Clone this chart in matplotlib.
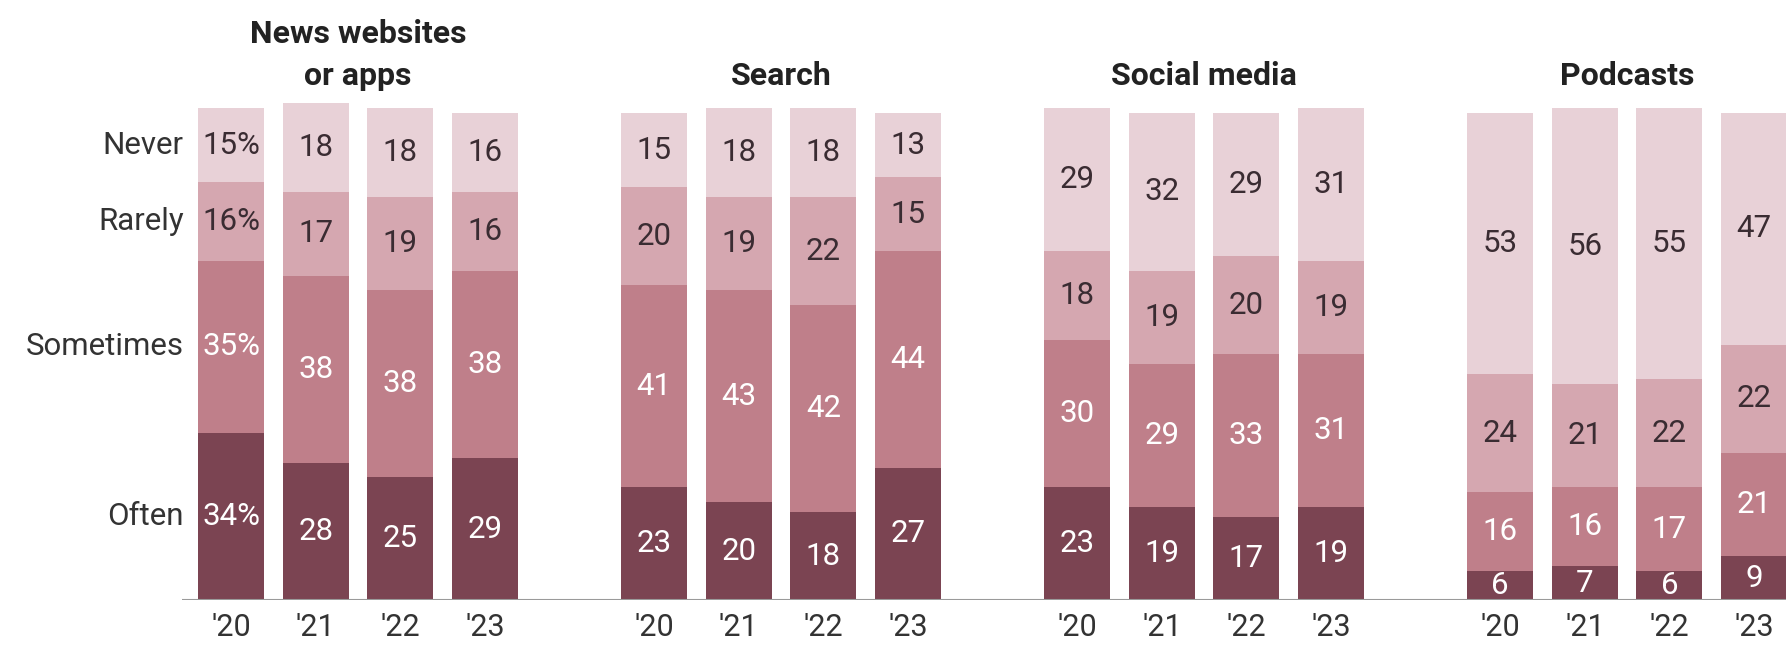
import matplotlib
matplotlib.use("Agg")
import matplotlib.pyplot as plt
import numpy as np

plt.rcParams['font.family'] = ['Roboto', 'DejaVu Sans']

groups = ["News websites\nor apps", "Search", "Social media", "Podcasts"]
years = ["'20", "'21", "'22", "'23"]
categories = ["Often", "Sometimes", "Rarely", "Never"]

often = [[34, 28, 25, 29], [23, 20, 18, 27], [23, 19, 17, 19], [6, 7, 6, 9]]
sometimes = [[35, 38, 38, 38], [41, 43, 42, 44], [30, 29, 33, 31], [16, 16, 17, 21]]
rarely = [[16, 17, 19, 16], [20, 19, 22, 15], [18, 19, 20, 19], [24, 21, 22, 22]]
never = [[15, 18, 18, 16], [15, 18, 18, 13], [29, 32, 29, 31], [53, 56, 55, 47]]

colors = ["#7b4452", "#bf7f8a", "#d5a7b0", "#e8d1d7"]
text_colors = ["white", "white", "#3a2c32", "#3a2c32"]

fig = plt.figure(figsize=(17.86, 6.47), dpi=100)
ax = fig.add_axes([0.102, 0.072, 0.8986, 0.9127])

series = [often, sometimes, rarely, never]
bar_w = 0.78
for g in range(4):
    xs = np.arange(4) + g * 5
    bottom = np.zeros(4)
    for s, data in enumerate(series):
        vals = np.array(data[g], dtype=float)
        ax.bar(xs, vals, bottom=bottom, width=bar_w, color=colors[s], linewidth=0)
        for i in range(4):
            lab = f"{data[g][i]}" + ("%" if (g == 0 and i == 0) else "")
            ax.text(xs[i], bottom[i] + vals[i] / 2, lab, ha="center", va="center",
                    fontsize=22.5, color=text_colors[s])
        bottom += vals
    for i in range(4):
        ax.text(xs[i], -2.6, years[i], ha="center", va="top", fontsize=22,
                color="#333333", clip_on=False)
    ax.text(xs.mean(), 103.6, groups[g], ha="center", va="bottom", fontsize=23,
            fontweight="bold", color="#222222", linespacing=1.5, clip_on=False)

# category labels at segment centres of first bar
b = 0
for s, data in enumerate(series):
    v = data[0][0]
    ax.text(-0.56, b + v / 2, categories[s], ha="right", va="center", fontsize=22.5,
            color="#333333", clip_on=False)
    b += v

ax.axhline(0, color="#9a9a9a", linewidth=1.5)
ax.set_xlim(-0.579, 18.39)
ax.set_ylim(0, 120)
ax.axis("off")

fig.savefig("out.png", dpi=100)
